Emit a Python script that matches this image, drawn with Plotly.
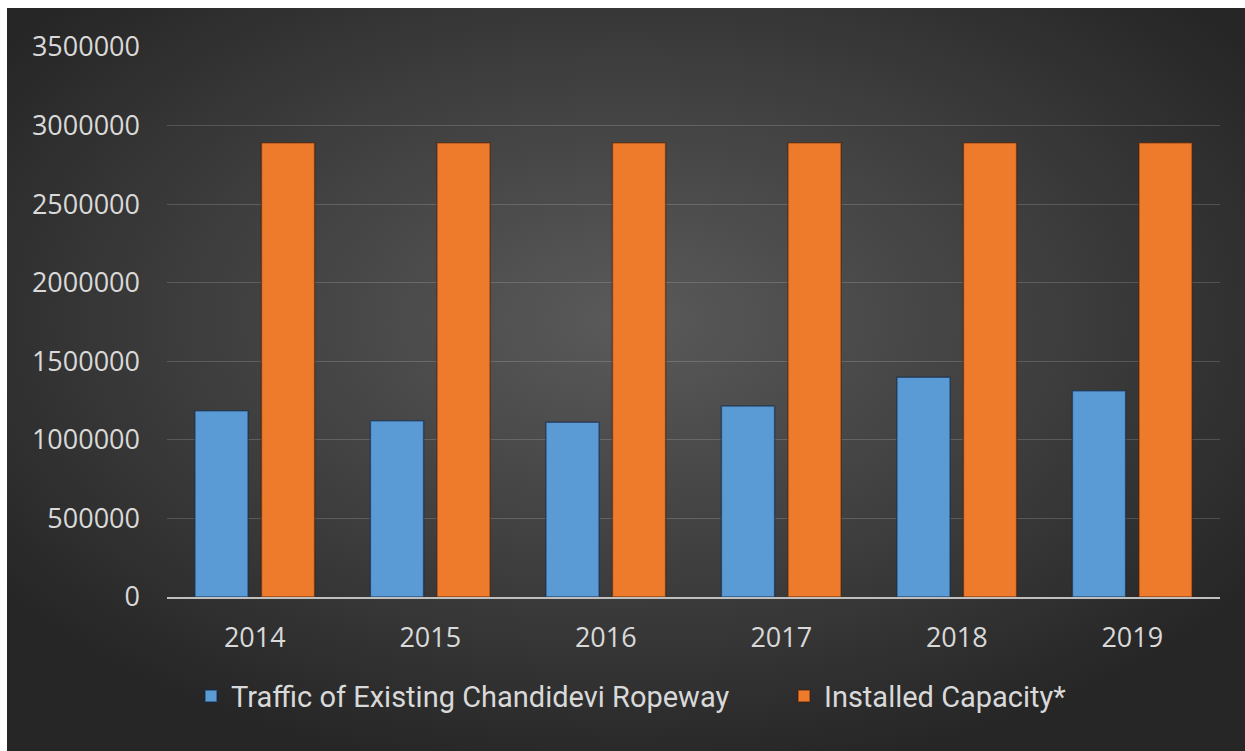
import base64
import plotly.graph_objects as go

years = ["2014", "2015", "2016", "2017", "2018", "2019"]
traffic = [1186000, 1121000, 1112000, 1216000, 1398000, 1313000]
capacity = [2890000, 2890000, 2890000, 2890000, 2890000, 2890000]
series_names = ["Traffic of Existing Chandidevi Ropeway", "Installed Capacity*"]
y_ticks = [0, 500000, 1000000, 1500000, 2000000, 2500000, 3000000, 3500000]

W, H = 1245, 751
ML, MR, MT, MB = 167, 25, 47, 154
PW, PH = W - ML - MR, H - MT - MB
BORDER_L, BORDER_T = 7, 8

svg = f'''<svg xmlns="http://www.w3.org/2000/svg" width="{W-BORDER_L}" height="{H-BORDER_T}" viewBox="0 0 {W-BORDER_L} {H-BORDER_T}" preserveAspectRatio="none">
<defs><radialGradient id="g" cx="50%" cy="42%" r="62%" fx="50%" fy="42%">
<stop offset="0" stop-color="#5a5a5a"/><stop offset="0.55" stop-color="#3e3e3e"/><stop offset="1" stop-color="#262626"/>
</radialGradient></defs>
<rect width="100%" height="100%" fill="url(#g)"/></svg>'''
src = "data:image/svg+xml;base64," + base64.b64encode(svg.encode()).decode()

fig = go.Figure()
fig.add_trace(go.Bar(
    x=years, y=traffic, name=series_names[0], legend="legend",
    marker=dict(color="#5b9bd5", line=dict(color="rgba(20,40,70,0.6)", width=1.5)),
))
fig.add_trace(go.Bar(
    x=years, y=capacity, name=series_names[1], legend="legend2",
    marker=dict(color="#ee7a2c", line=dict(color="rgba(60,25,5,0.5)", width=1.5)),
))

fig.add_layout_image(dict(
    source=src, xref="paper", yref="paper",
    x=(BORDER_L - ML) / PW, y=(H - MB - BORDER_T) / PH,
    sizex=(W - BORDER_L) / PW, sizey=(H - BORDER_T) / PH,
    xanchor="left", yanchor="top", sizing="stretch", layer="below",
))

tick_font = dict(family="Open Sans, Segoe UI, sans-serif", size=27, color="#d9d9d9")
legend_font = dict(family="Roboto, sans-serif", size=29, color="#d9d9d9")
legend_common = dict(
    orientation="h", xref="container", yref="container",
    xanchor="left", y=0.073, yanchor="middle",
    font=legend_font, bgcolor="rgba(0,0,0,0)",
)

fig.update_layout(
    width=W, height=H,
    margin=dict(l=ML, r=MR, t=MT, b=MB),
    paper_bgcolor="white",
    plot_bgcolor="rgba(0,0,0,0)",
    barmode="group",
    bargap=0.242,
    bargroupgap=0.2,
    showlegend=True,
    legend=dict(x=191 / W, **legend_common),
    legend2=dict(x=784 / W, **legend_common),
    xaxis=dict(
        type="category", tickfont=tick_font, showgrid=False,
        showline=True, linecolor="#bfbfbf", linewidth=2,
        ticks="", ticklabelstandoff=16,
    ),
    yaxis=dict(
        range=[0, 3500000], tickvals=y_ticks, ticktext=[str(v) for v in y_ticks],
        tickfont=tick_font, showgrid=True, gridcolor="rgba(255,255,255,0.16)", gridwidth=1,
        zeroline=False, showline=False, ticks="", ticklabelstandoff=26,
    ),
)

fig.write_html("out.html")
